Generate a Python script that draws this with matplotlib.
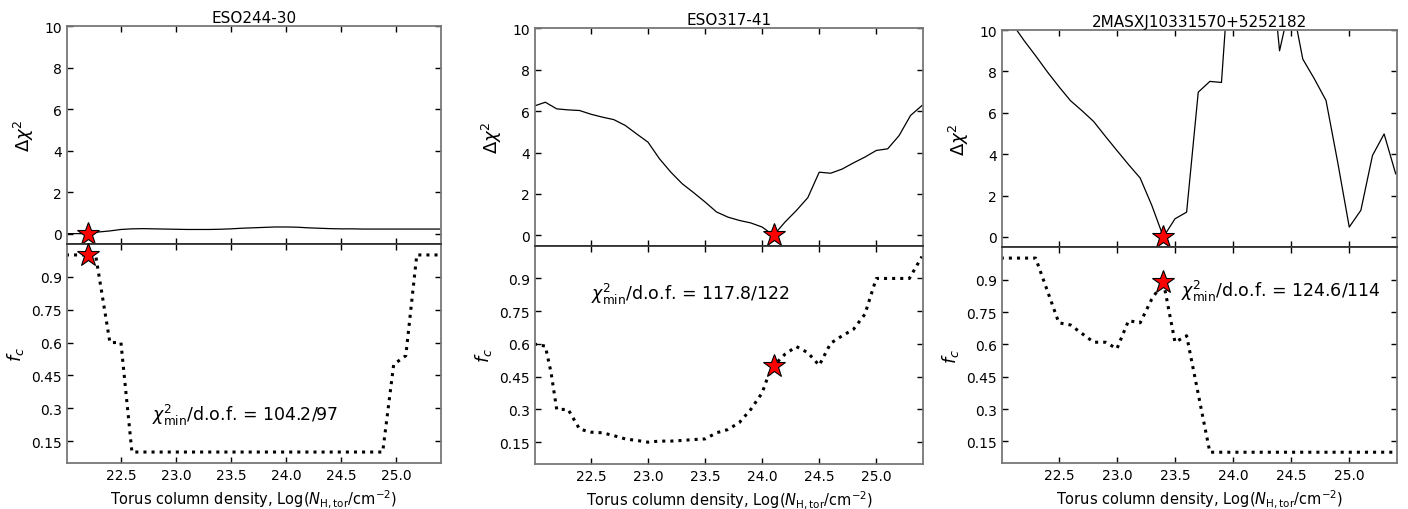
import numpy as np
import matplotlib
matplotlib.use('Agg')
import matplotlib.pyplot as plt

plt.rcParams['font.family'] = 'DejaVu Sans'
plt.rcParams['mathtext.fontset'] = 'dejavusans'

# grid of torus column densities (log NH)
nh = [22.0, 22.1, 22.2, 22.3, 22.4, 22.5, 22.6, 22.7, 22.8, 22.9,
      23.0, 23.1, 23.2, 23.3, 23.4, 23.5, 23.6, 23.7, 23.8, 23.9,
      24.0, 24.1, 24.2, 24.3, 24.4, 24.5, 24.6, 24.7, 24.8, 24.9,
      25.0, 25.1, 25.2, 25.3, 25.4]

names = ['ESO244-30', 'ESO317-41', '2MASXJ10331570+5252182']

# --- ESO244-30
dchi_1 = [0.0, 0.0, 0.0, 0.08, 0.13, 0.2, 0.23, 0.24, 0.23, 0.22,
          0.21, 0.2, 0.2, 0.2, 0.21, 0.23, 0.26, 0.28, 0.3, 0.32,
          0.32, 0.31, 0.28, 0.26, 0.24, 0.23, 0.23, 0.22, 0.22, 0.22,
          0.22, 0.22, 0.22, 0.22, 0.22]
fc_x_1 = [22.0, 22.27, 22.4, 22.5, 22.6, 24.88, 24.98, 25.09, 25.19, 25.4]
fc_1 = [1.0, 1.0, 0.6, 0.6, 0.1, 0.1, 0.5, 0.54, 1.0, 1.0]

# --- ESO317-41
dchi_2 = [6.24, 6.43, 6.11, 6.06, 6.03, 5.85, 5.71, 5.59, 5.31, 4.9,
          4.5, 3.7, 3.05, 2.49, 2.06, 1.61, 1.13, 0.88, 0.72, 0.6,
          0.4, 0.0, 0.64, 1.2, 1.82, 3.05, 3.0, 3.2, 3.5, 3.78,
          4.1, 4.18, 4.82, 5.79, 6.27]
fc_x_2 = [22.0, 22.1, 22.15, 22.2, 22.3, 22.4, 22.5, 22.6, 22.7, 22.8,
          22.9, 23.0, 23.1, 23.2, 23.3, 23.4, 23.5, 23.6, 23.7, 23.8,
          23.9, 24.0, 24.05, 24.1, 24.2, 24.3, 24.4, 24.5, 24.6, 24.7,
          24.8, 24.9, 25.0, 25.1, 25.2, 25.29, 25.4]
fc_2 = [0.6, 0.59, 0.47, 0.3, 0.3, 0.21, 0.196, 0.193, 0.18, 0.165,
        0.158, 0.15, 0.155, 0.155, 0.158, 0.162, 0.165, 0.193, 0.208, 0.24,
        0.3, 0.376, 0.45, 0.5, 0.553, 0.588, 0.56, 0.502, 0.603, 0.637,
        0.667, 0.736, 0.9, 0.9, 0.9, 0.9, 1.0]

# --- 2MASXJ10331570+5252182
dchi_3 = [11.2, 10.3, 9.5, 8.76, 7.99, 7.27, 6.59, 6.1, 5.58, 4.87,
          4.18, 3.5, 2.85, 1.53, 0.0, 0.88, 1.2, 7.0, 7.52, 7.47,
          15.5, 17.0, 16.0, 14.8, 9.0, 11.5, 8.6, 7.64, 6.6, 3.63,
          0.48, 1.29, 3.94, 4.98, 3.05]
fc_3 = [1.0, 1.0, 1.0, 1.0, 0.85, 0.70, 0.69, 0.65, 0.61, 0.61,
        0.58, 0.71, 0.70, 0.81, 0.89, 0.61, 0.64, 0.37, 0.1, 0.1,
        0.1, 0.1, 0.1, 0.1, 0.1, 0.1, 0.1, 0.1, 0.1, 0.1,
        0.1, 0.1, 0.1, 0.1, 0.1]

best_nh = [22.2, 24.1, 23.4]
best_fc = [1.0, 0.5, 0.89]
chi_txt = ['104.2/97', '117.8/122', '124.6/114']
txt_pos = [(22.78, 0.27), (22.5, 0.83), (23.55, 0.848)]

dchi_all = [dchi_1, dchi_2, dchi_3]
fc_x_all = [fc_x_1, fc_x_2, nh]
fc_all = [fc_1, fc_2, fc_3]

# axes boxes [left, width, bottom, divider, top] in figure fraction
boxes = [(0.0476, 0.2656, 0.0902, 0.5196, 0.947),
         (0.380, 0.2756, 0.0882, 0.5163, 0.9425),
         (0.7116, 0.2805, 0.0902, 0.5131, 0.939)]

fig = plt.figure(figsize=(14.08, 5.10), dpi=100)
spine_col = '#777777'

for i in range(3):
    l, w, b, m, t = boxes[i]
    ax1 = fig.add_axes([l, m, w, t - m])
    ax2 = fig.add_axes([l, b, w, m - b])

    ax1.plot(nh, dchi_all[i], '-k', lw=0.9)
    ax1.plot(best_nh[i], 0.0, '*', ms=17, mfc='red', mec='black', mew=0.8,
             clip_on=False, zorder=5)
    ax1.set_ylim(-0.5, 10)
    ax1.set_yticks([0, 2, 4, 6, 8, 10])
    ax1.set_ylabel(r'$\Delta\chi^2$', fontsize=13, labelpad=6)
    ax1.set_title(names[i], fontsize=11, pad=3)
    ax1.tick_params(labelbottom=False)

    ax2.plot(fc_x_all[i], fc_all[i], color='black', ls=':', lw=2.2)
    ax2.plot(best_nh[i], best_fc[i], '*', ms=17, mfc='red', mec='black', mew=0.8,
             clip_on=False, zorder=5)
    ax2.set_ylim(0.05, 1.05)
    ax2.set_yticks([0.15, 0.3, 0.45, 0.6, 0.75, 0.9])
    ax2.set_yticklabels(['0.15', '0.3', '0.45', '0.6', '0.75', '0.9'])
    ax2.set_ylabel(r'$f_c$', fontsize=13)
    ax2.set_xlabel(r'Torus column density, Log($N_{\rm H,tor}$/cm$^{-2}$)', fontsize=10.5)
    tx, ty = txt_pos[i]
    ax2.text(tx, ty, r'$\chi^2_{\rm min}$/d.o.f. = ' + chi_txt[i], fontsize=12.5, va='center')

    for ax in (ax1, ax2):
        ax.set_xlim(22.01, 25.41)
        ax.set_xticks([22.5, 23.0, 23.5, 24.0, 24.5, 25.0])
        ax.tick_params(direction='in', top=True, right=True, length=4,
                       width=1, labelsize=10, colors='black')
        for s in ax.spines.values():
            s.set_color(spine_col)
            s.set_linewidth(1.3)
    ax1.spines['bottom'].set_color('#333333')
    ax2.spines['top'].set_color('#333333')

plt.savefig('out.png', dpi=100)
